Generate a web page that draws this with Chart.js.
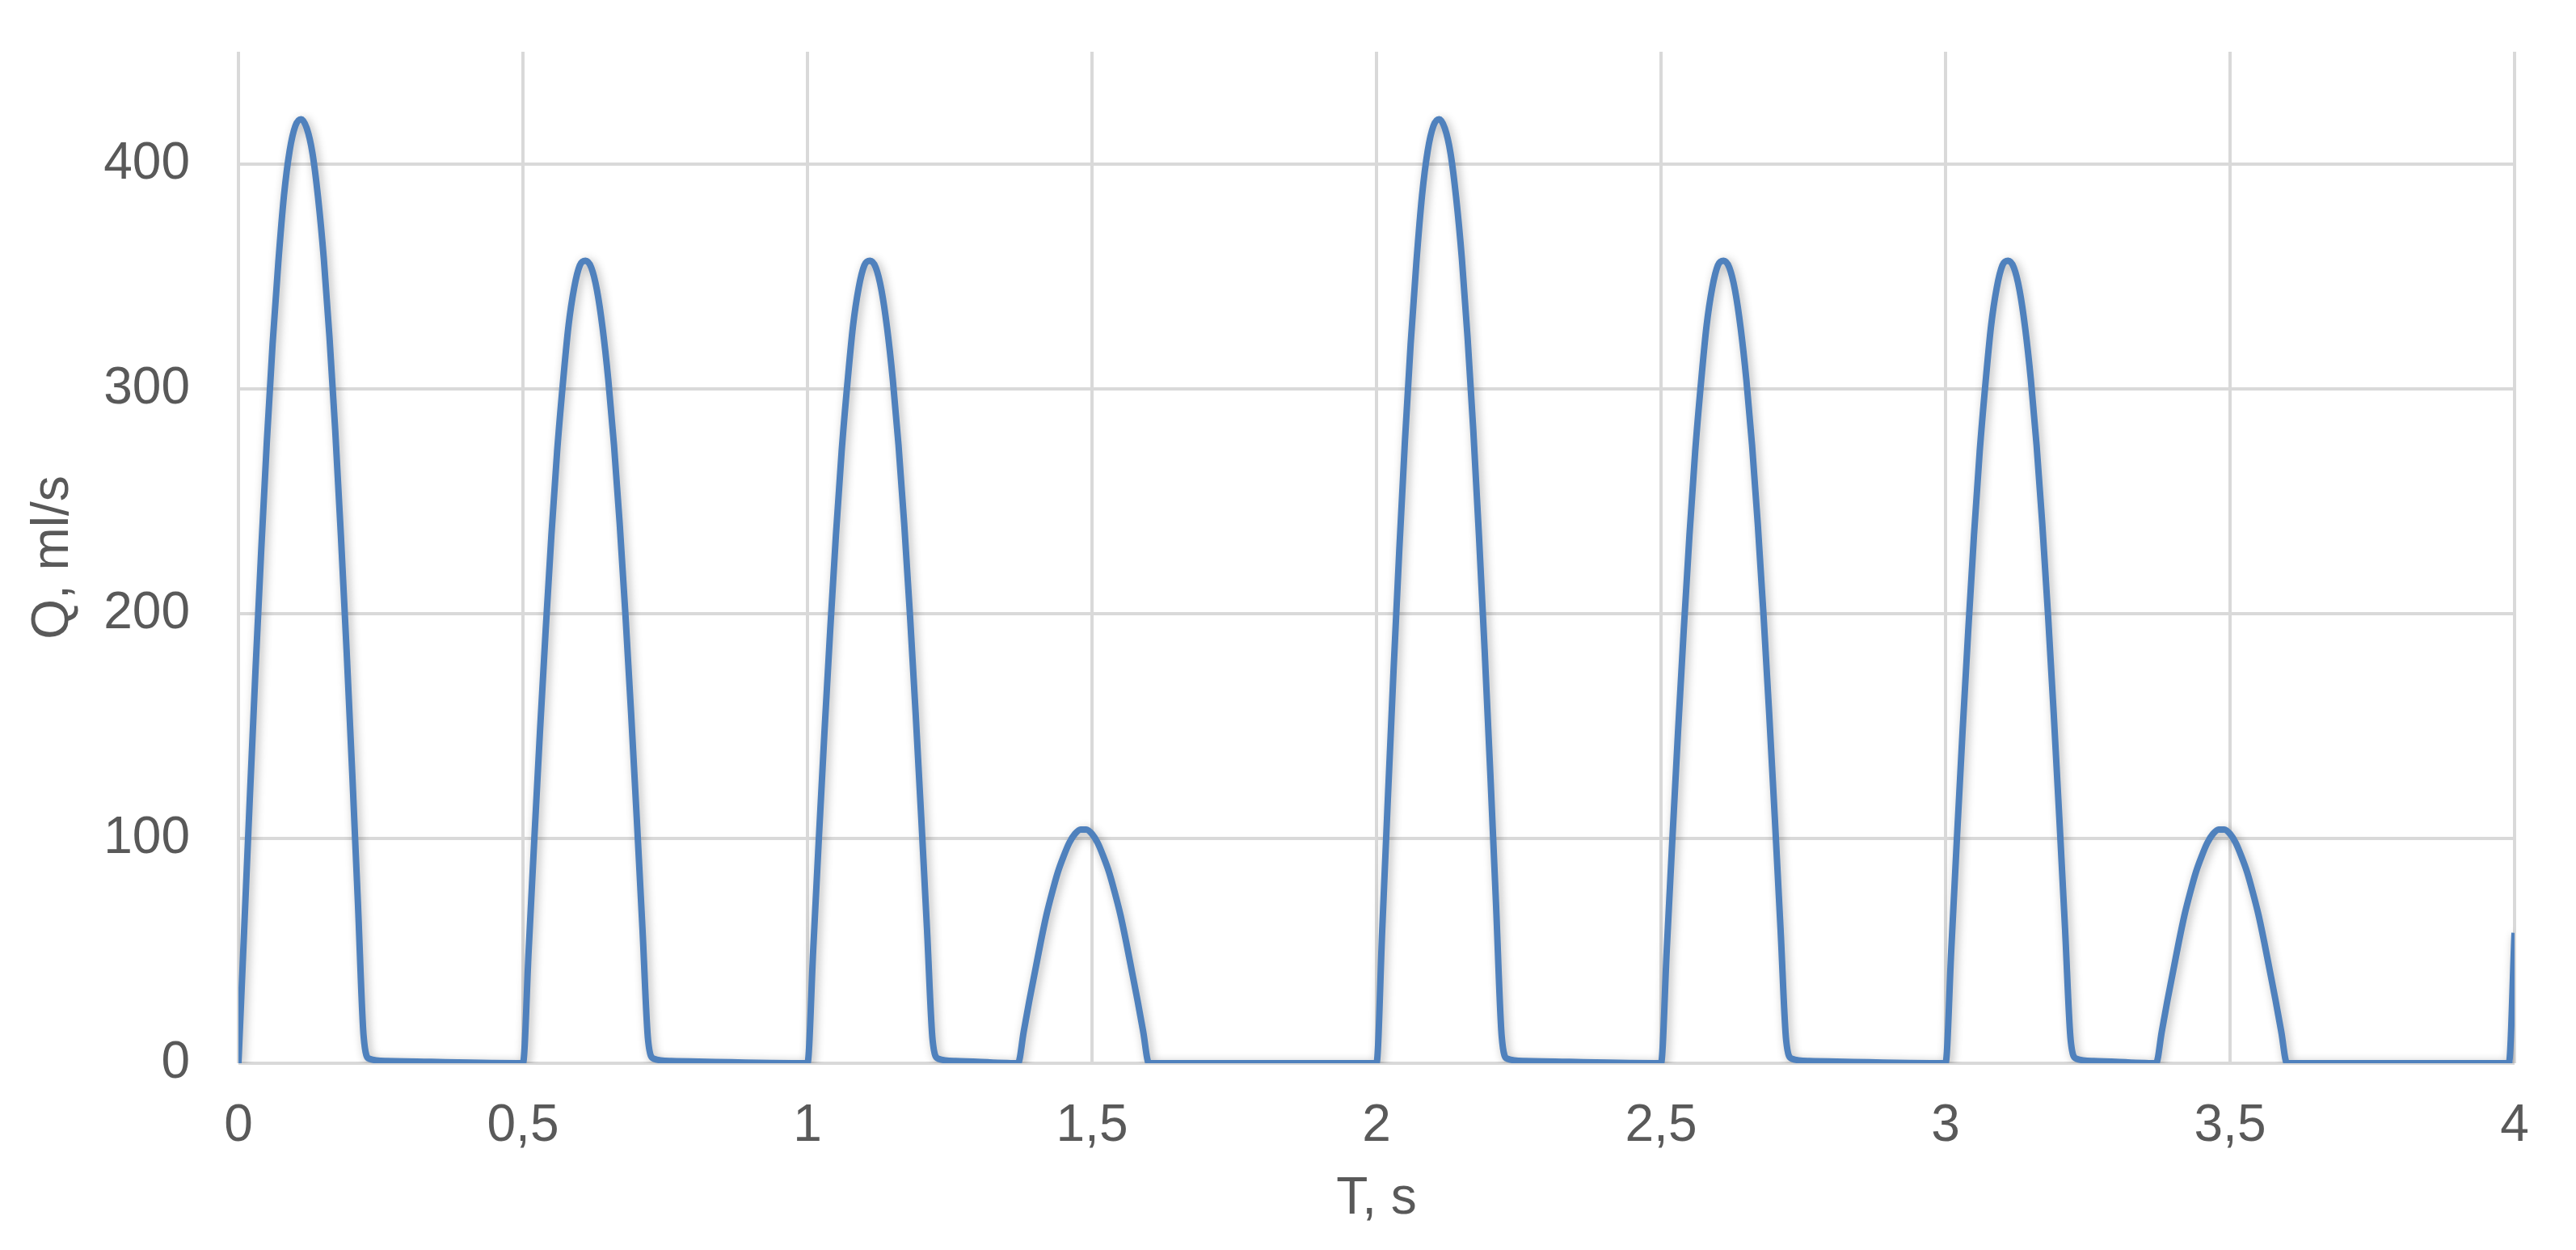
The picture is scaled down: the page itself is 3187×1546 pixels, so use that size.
<!DOCTYPE html>
<html lang="en">
<head>
    <title>Q(T)</title>
    <script src="https://cdn.jsdelivr.net/npm/chart.js"></script>
    <style>
        body { margin: 0; background: #fff; }
    </style>
</head>
<body>
    <canvas id="flowChart" width="3187" height="1546"></canvas>

    <script>
        // time, s (one line per beat)
        const timeS = [
            0.00, 0.01, 0.02, 0.03, 0.04, 0.05, 0.06, 0.07, 0.08, 0.09, 0.10, 0.11, 0.12, 0.13, 0.14, 0.15, 0.16, 0.17, 0.18, 0.19, 0.20, 0.21, 0.22, 0.23, 0.26, 0.49,
            0.50, 0.51, 0.52, 0.53, 0.54, 0.55, 0.56, 0.57, 0.58, 0.59, 0.60, 0.61, 0.62, 0.63, 0.64, 0.65, 0.66, 0.67, 0.68, 0.69, 0.70, 0.71, 0.72, 0.73, 0.76, 0.99,
            1.00, 1.01, 1.02, 1.03, 1.04, 1.05, 1.06, 1.07, 1.08, 1.09, 1.10, 1.11, 1.12, 1.13, 1.14, 1.15, 1.16, 1.17, 1.18, 1.19, 1.20, 1.21, 1.22, 1.23, 1.26,
            1.37, 1.38, 1.39, 1.40, 1.41, 1.42, 1.43, 1.44, 1.45, 1.46, 1.47, 1.48, 1.49, 1.50, 1.51, 1.52, 1.53, 1.54, 1.55, 1.56, 1.57, 1.58, 1.59, 1.60, 1.99,
            2.00, 2.01, 2.02, 2.03, 2.04, 2.05, 2.06, 2.07, 2.08, 2.09, 2.10, 2.11, 2.12, 2.13, 2.14, 2.15, 2.16, 2.17, 2.18, 2.19, 2.20, 2.21, 2.22, 2.23, 2.26, 2.49,
            2.50, 2.51, 2.52, 2.53, 2.54, 2.55, 2.56, 2.57, 2.58, 2.59, 2.60, 2.61, 2.62, 2.63, 2.64, 2.65, 2.66, 2.67, 2.68, 2.69, 2.70, 2.71, 2.72, 2.73, 2.76, 2.99,
            3.00, 3.01, 3.02, 3.03, 3.04, 3.05, 3.06, 3.07, 3.08, 3.09, 3.10, 3.11, 3.12, 3.13, 3.14, 3.15, 3.16, 3.17, 3.18, 3.19, 3.20, 3.21, 3.22, 3.23, 3.26,
            3.37, 3.38, 3.39, 3.40, 3.41, 3.42, 3.43, 3.44, 3.45, 3.46, 3.47, 3.48, 3.49, 3.50, 3.51, 3.52, 3.53, 3.54, 3.55, 3.56, 3.57, 3.58, 3.59, 3.60, 3.99,
            4.00
        ];

        // flow, ml/s
        const flowMlS = [
            0, 59, 118, 175, 228, 277, 320, 356, 386, 406, 417, 420, 416, 405, 385, 358, 323, 282, 235, 184, 129, 71, 12, 2, 1, 0,
            0, 50, 100, 148, 193, 235, 272, 302, 328, 345, 355, 357, 354, 344, 327, 304, 275, 240, 200, 156, 109, 60, 10, 2, 1, 0,
            0, 50, 100, 148, 193, 235, 272, 302, 328, 345, 355, 357, 354, 344, 327, 304, 275, 240, 200, 156, 109, 60, 10, 2, 1,
            0, 14, 28, 41, 54, 66, 76, 85, 92, 98, 102, 104, 104, 102, 98, 92, 85, 76, 66, 54, 41, 28, 14, 0, 0,
            0, 59, 118, 175, 228, 277, 320, 356, 386, 406, 417, 420, 416, 405, 385, 358, 323, 282, 235, 184, 129, 71, 12, 2, 1, 0,
            0, 50, 100, 148, 193, 235, 272, 302, 328, 345, 355, 357, 354, 344, 327, 304, 275, 240, 200, 156, 109, 60, 10, 2, 1, 0,
            0, 50, 100, 148, 193, 235, 272, 302, 328, 345, 355, 357, 354, 344, 327, 304, 275, 240, 200, 156, 109, 60, 10, 2, 1,
            0, 14, 28, 41, 54, 66, 76, 85, 92, 98, 102, 104, 104, 102, 98, 92, 85, 76, 66, 54, 41, 28, 14, 0, 0,
            58
        ];

        const xTitle = "T, s";
        const yTitle = "Q, ml/s";

        const points = timeS.map((t, i) => ({ x: t, y: flowMlS[i] }));

        // soft grey shadow under the line, like the office chart
        const lineShadow = {
            id: "lineShadow",
            beforeDatasetsDraw(chart) {
                const c = chart.ctx;
                c.save();
                c.shadowColor = "rgba(0,0,0,0.3)";
                c.shadowBlur = 12;
                c.shadowOffsetX = 3;
                c.shadowOffsetY = 3;
            },
            afterDatasetsDraw(chart) {
                chart.ctx.restore();
            }
        };

        Chart.defaults.font.family = "'Liberation Sans', Arial, sans-serif";
        Chart.defaults.color = "#595959";

        new Chart(document.getElementById("flowChart"), {
            type: "scatter",
            data: {
                datasets: [{
                    data: points,
                    showLine: true,
                    borderColor: "#4f81bd",
                    borderWidth: 8,
                    pointRadius: 0,
                    cubicInterpolationMode: "monotone",
                    fill: false
                }]
            },
            options: {
                responsive: false,
                animation: false,
                devicePixelRatio: 1,
                layout: { padding: { left: 0, right: 76, top: 64, bottom: 24 } },
                plugins: { legend: { display: false }, tooltip: { enabled: false } },
                scales: {
                    x: {
                        type: "linear",
                        min: 0,
                        max: 4,
                        border: { display: false },
                        grid: { color: "#d9d9d9", lineWidth: 4, drawTicks: false },
                        ticks: {
                            stepSize: 0.5,
                            padding: 40,
                            font: { size: 64 },
                            callback: v => String(v).replace(".", ",")
                        },
                        title: { display: true, text: xTitle, font: { size: 64 }, padding: { top: 14, bottom: 0 } },
                        afterFit: axis => {
                            axis.height = 207;
                            axis.paddingLeft = 0;
                            axis.paddingRight = 0;
                        }
                    },
                    y: {
                        min: 0,
                        max: 450,
                        border: { display: false },
                        grid: { color: "#d9d9d9", lineWidth: 4, drawTicks: false },
                        afterBuildTicks: axis => {
                            axis.ticks = axis.ticks.filter(t => t.value % 100 === 0);
                        },
                        ticks: { stepSize: 100, padding: 60, font: { size: 64 } },
                        title: { display: true, text: yTitle, font: { size: 64 }, padding: { top: 28, bottom: 24 } },
                        afterFit: axis => {
                            axis.width = 295;
                            axis.paddingTop = 0;
                            axis.paddingBottom = 0;
                        }
                    }
                }
            },
            plugins: [lineShadow]
        });
    </script>
</body>
</html>
